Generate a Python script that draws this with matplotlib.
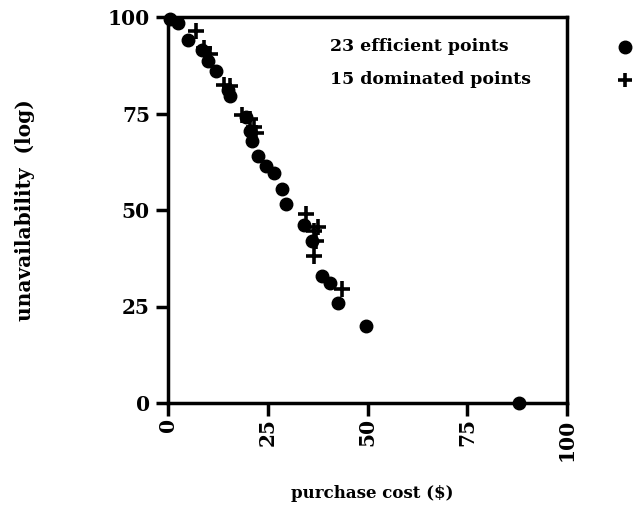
import matplotlib
matplotlib.use("Agg")
import matplotlib.pyplot as plt
from matplotlib.lines import Line2D

plt.rcParams['font.family'] = ['DejaVu Serif']
plt.rcParams['font.weight'] = 'bold'

eff_cost = [0.5, 2.5, 5, 8.5, 10, 12, 15, 15.5, 19.5, 20.5, 21, 22.5, 24.5, 26.5,
            28.5, 29.5, 34, 36, 38.5, 40.5, 42.5, 49.5, 88]
eff_unav = [99.5, 98.5, 94, 91.5, 88.5, 86, 81, 79.5, 74, 70.5, 68, 64, 61.5, 59.5,
            55.5, 51.5, 46, 42, 33, 31, 26, 20, 0]
dom_cost = [7, 9, 10.5, 14, 15.5, 18.5, 20.5, 21.5, 22, 34.5, 36.5, 37.5, 37, 36.5, 43.5]
dom_unav = [96.5, 92, 90.5, 82.5, 82, 74.5, 73.5, 71.5, 70, 49, 44.5, 45.5, 42, 38, 29.5]
ticks = [0, 25, 50, 75, 100]
legend_labels = ["23 efficient points", "15 dominated points"]

fig = plt.figure(figsize=(6.33, 5.16), dpi=100)
ax = fig.add_axes([168/633, 1-403/516, (567-168)/633, (403-17)/516])

ax.plot(eff_cost, eff_unav, 'o', color='black', markersize=9, clip_on=False, zorder=3)
ax.plot(dom_cost, dom_unav, '+', color='black', markersize=11, markeredgewidth=2.6,
        clip_on=False, zorder=3)

ax.set_xlim(0, 100)
ax.set_ylim(0, 100)
ax.set_xticks(ticks)
ax.set_yticks(ticks)
ax.set_xticklabels([str(t) for t in ticks], rotation=90, fontsize=14.5, fontweight='bold')
ax.set_yticklabels([str(t) for t in ticks], fontsize=14.5, fontweight='bold')
ax.tick_params(axis='y', direction='out', length=9, width=2.5, pad=4)
ax.tick_params(axis='x', direction='out', length=9, width=2.5, pad=2)
for s in ax.spines.values():
    s.set_linewidth(2.5)

fig.text(25/633, 1-210/516, "unavailability  (log)", rotation=90, ha='center', va='center',
         fontsize=14.5, fontweight='bold')
fig.text(372/633, 1-493/516, "purchase cost ($)", ha='center', va='center',
         fontsize=12, fontweight='bold')

fig.text(330/633, 1-47/516, legend_labels[0], ha='left', va='center', fontsize=12.5, fontweight='bold')
fig.text(330/633, 1-80/516, legend_labels[1], ha='left', va='center', fontsize=12.5, fontweight='bold')
fig.add_artist(Line2D([625/633], [1-47/516], marker='o', color='black', markersize=9,
                      transform=fig.transFigure))
fig.add_artist(Line2D([625/633], [1-80/516], marker='+', color='black', markersize=10,
                      markeredgewidth=2.6, transform=fig.transFigure))

fig.savefig("out.png", dpi=100, facecolor='white')
